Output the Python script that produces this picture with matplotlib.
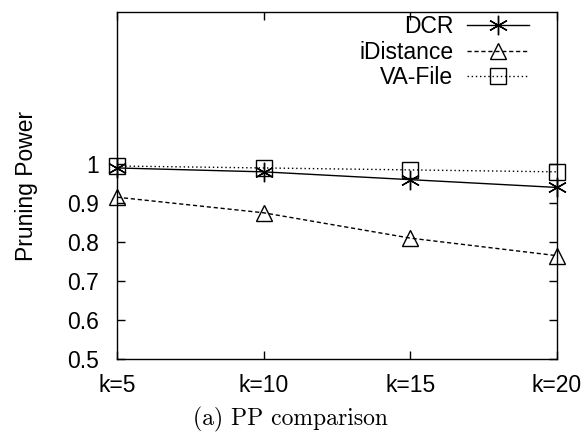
import matplotlib
matplotlib.use("Agg")
import matplotlib.pyplot as plt

# values
k_labels = ["k=5", "k=10", "k=15", "k=20"]
dcr = [0.99, 0.98, 0.96, 0.94]
idistance = [0.915, 0.875, 0.81, 0.765]
va_file = [0.995, 0.99, 0.985, 0.98]
y_ticks = [0.5, 0.6, 0.7, 0.8, 0.9, 1]

plt.rcParams['font.family'] = ['Liberation Sans', 'DejaVu Sans']

fig = plt.figure(figsize=(5.87, 4.32), dpi=100)
ax = fig.add_axes([117 / 587, 73 / 432, 440 / 587, 347 / 432])

x = range(len(k_labels))
ax.plot(x, dcr, color="black", lw=1, marker=(6, 2, 0), ms=14, mew=1,
        label="DCR", clip_on=False)
ax.plot(x, idistance, color="black", lw=1, ls=(0, (3, 2)), marker="^", ms=12,
        mfc="none", mew=1, label="iDistance", clip_on=False)
ax.plot(x, va_file, color="black", lw=1, ls=(0, (1, 2)), marker="s", ms=12,
        mfc="none", mew=1, label="VA-File", clip_on=False)

ax.set_xlim(0, len(k_labels) - 1)
ax.set_ylim(0.5, 1.39)
ax.set_xticks(list(x))
ax.set_xticklabels(k_labels)
ax.set_yticks(y_ticks)
ax.set_yticklabels(["0.5", "0.6", "0.7", "0.8", "0.9", "1"])
ax.tick_params(direction="in", length=6, width=1, labelsize=16.5, top=True,
               right=True)
ax.tick_params(axis="x", pad=11)
ax.tick_params(axis="y", pad=13)
for s in ax.spines.values():
    s.set_linewidth(1)
ax.set_ylabel("Pruning Power", fontsize=16.5, labelpad=21)

leg = ax.legend(loc="upper right", bbox_to_anchor=(0.936, 0.99), frameon=False,
                markerfirst=False, fontsize=16.5, handlelength=2.7,
                handletextpad=0.6, labelspacing=0.09, borderaxespad=0,
                borderpad=0)
for t in leg.get_texts():
    t.set_ha("right")

fig.text(0.495, 1 - 419 / 432, "(a) PP comparison",
         ha="center", va="center", fontsize=17, family="cmr10")

fig.savefig("out.png", dpi=100)
